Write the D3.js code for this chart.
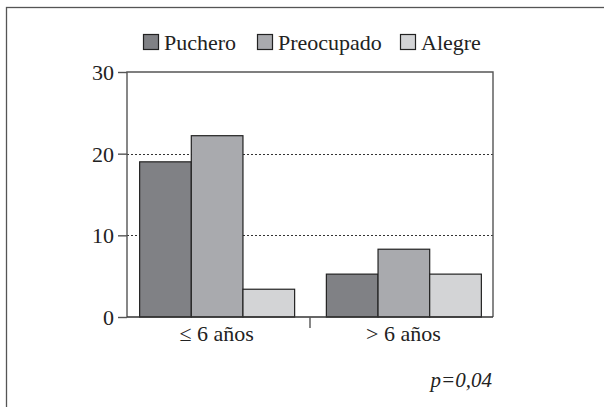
<!DOCTYPE html>
<html><head><meta charset="utf-8">
<script src="https://cdn.jsdelivr.net/npm/d3@7"></script>
</head><body>
<script>
const categories = ["\u2264 6 a\u00f1os", "> 6 a\u00f1os"];
const seriesNames = ["Puchero", "Preocupado", "Alegre"];
const puchero = [19, 5.25];
const preocupado = [22.2, 8.3];
const alegre = [3.4, 5.25];
const yTicks = [0, 10, 20, 30];
const gridTicks = [10, 20];
const pLabel = "p=0,04";

const colors = ["#808185", "#a9aaae", "#d3d4d6"];
const seriesValues = [puchero, preocupado, alegre];
const FONT = '"Liberation Serif"';

d3.select("body").style("margin", "0px").style("position", "relative");
const svg = d3.select("body").append("svg").attr("width", 604).attr("height", 407).style("display", "block");

svg.append("rect").attr("x", 6.5).attr("y", 7.5).attr("width", 700).attr("height", 500)
  .attr("fill", "none").attr("stroke", "#555").attr("stroke-width", 1.3);

const pLeft = 127, pRight = 493, pTop = 72, pBottom = 317;
const x0 = d3.scaleBand().domain(categories).range([pLeft, pRight]).paddingInner(0.17).paddingOuter(0.065);
const x1 = d3.scaleBand().domain(seriesNames).range([0, x0.bandwidth()]);
const y = d3.scaleLinear().domain([0, 30]).range([pBottom, pTop]);

svg.append("g").selectAll("line").data(gridTicks).join("line")
  .attr("x1", pLeft).attr("x2", pRight)
  .attr("y1", d => Math.round(y(d)) + 0.5).attr("y2", d => Math.round(y(d)) + 0.5)
  .attr("stroke", "#333").attr("stroke-width", 1).attr("stroke-dasharray", "2,2");

const groups = svg.append("g").selectAll("g").data(categories).join("g")
  .attr("transform", c => `translate(${x0(c)},0)`);
groups.selectAll("rect").data((c, ci) => seriesNames.map((s, si) => ({s, si, v: seriesValues[si][ci]})))
  .join("rect")
  .attr("x", d => x1(d.s) + 0.5).attr("width", x1.bandwidth())
  .attr("y", d => y(d.v)).attr("height", d => y(0) - y(d.v))
  .attr("fill", d => colors[d.si]).attr("stroke", "#222").attr("stroke-width", 1.2);

const frame = svg.append("g").attr("stroke", "#555").attr("stroke-width", 1.4).attr("fill", "none");
frame.append("path").attr("d", `M${pLeft},${pBottom}V${pTop}H${pRight}V${pBottom}`);
frame.append("line").attr("x1", pLeft).attr("x2", pRight).attr("y1", pBottom).attr("y2", pBottom).attr("stroke", "#333");

const ya = svg.append("g").attr("transform", `translate(${pLeft},0)`)
  .call(d3.axisLeft(y).tickValues(yTicks).tickSize(9).tickPadding(4));
ya.attr("font-family", "Liberation Serif").attr("font-size", 22);
ya.select(".domain").remove();
ya.selectAll(".tick line").attr("stroke", "#555").attr("stroke-width", 1.4);
ya.selectAll(".tick text").attr("font-family", "Liberation Serif").style("font-family", FONT)
  .attr("font-size", 22).attr("fill", "#222").attr("dy", "0.34em");

const midX = (x0(categories[0]) + x0.bandwidth() + x0(categories[1])) / 2;
svg.append("line").attr("x1", midX).attr("x2", midX).attr("y1", pBottom).attr("y2", pBottom + 11)
  .attr("stroke", "#555").attr("stroke-width", 1.4);

svg.append("g").selectAll("text").data(categories).join("text")
  .attr("x", c => x0(c) + x0.bandwidth() / 2).attr("y", 341)
  .attr("text-anchor", "middle").attr("font-family", "Liberation Serif").style("font-family", FONT)
  .attr("font-size", 22).attr("fill", "#222")
  .text(c => c);

const legendX = [143, 257, 400];
const lg = svg.append("g").selectAll("g").data(seriesNames).join("g")
  .attr("transform", (d, i) => `translate(${legendX[i]},34)`);
lg.append("rect").attr("x", 0.5).attr("y", 0.5).attr("width", 15).attr("height", 15)
  .attr("fill", (d, i) => colors[i]).attr("stroke", "#222").attr("stroke-width", 1.2);
lg.append("text").attr("x", 21).attr("y", 16).attr("font-family", "Liberation Serif").style("font-family", FONT)
  .attr("font-size", 22).attr("fill", "#222").text(d => d);

svg.append("text").attr("x", 492).attr("y", 387).attr("text-anchor", "end")
  .attr("font-family", "Liberation Serif").style("font-family", FONT)
  .attr("font-size", 21).attr("font-style", "italic").style("font-style", "italic").attr("fill", "#222")
  .text(pLabel);

// font warm-up element (off-screen)
d3.select("body").append("div").style("position", "absolute").style("left", "-1000px").style("top", "0px")
  .style("font-family", FONT).style("font-size", "20px").text("Agp 30");
</script>
</body></html>
